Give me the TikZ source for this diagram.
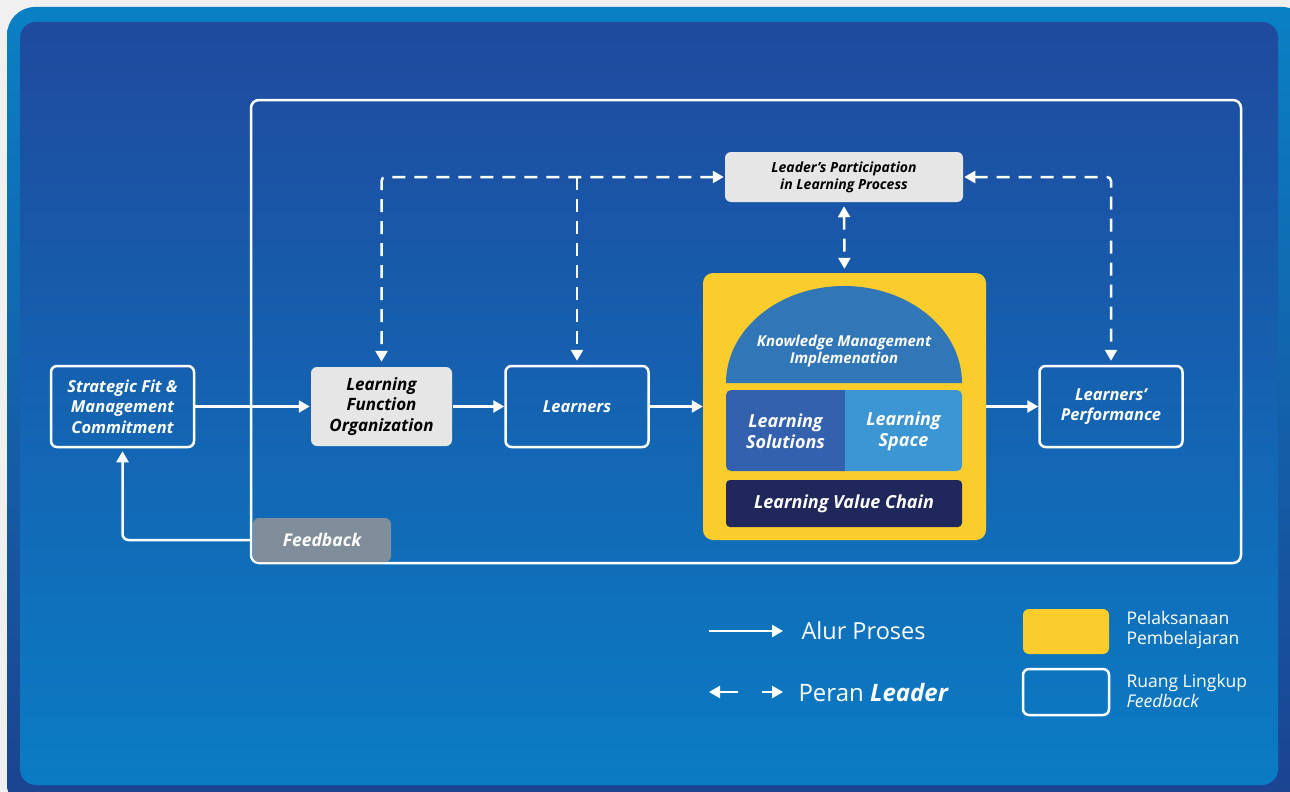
\documentclass[tikz,border=0pt]{standalone}
\usepackage{fontspec}
\setmainfont{Open Sans}
\usetikzlibrary{arrows.meta,positioning}
\definecolor{rimtop}{HTML}{0A80C4}
\definecolor{rimbot}{HTML}{1C4290}
\definecolor{bgtop}{HTML}{1F4A9E}
\definecolor{bgbot}{HTML}{0A7CC4}
\definecolor{abu}{HTML}{E6E6E6}
\definecolor{kuning}{HTML}{FBCD2C}
\definecolor{kubah}{HTML}{3176B7}
\definecolor{solusi}{HTML}{3461AE}
\definecolor{ruang}{HTML}{3D96D4}
\definecolor{navy}{HTML}{1F275B}
\definecolor{fbabu}{HTML}{7F8E9A}
\tikzset{
  kotak/.style={draw=white,line width=2.5pt,rounded corners=6pt,minimum width=143pt,minimum height=81pt,
                align=center,text=white,font=\bfseries\itshape\fontsize{16.5}{20.5}\selectfont},
  kotakabu/.style={kotak,draw=none,fill=abu,text=black,font=\bfseries\itshape\fontsize{17}{20.5}\selectfont},
  isi/.style={align=center,text=white,font=\bfseries\itshape\fontsize{18}{21}\selectfont},
  alur/.style={white,line width=2.5pt,-{Triangle[length=11pt,width=12pt]}},
  peran/.style={white,line width=2.5pt,dash pattern=on 13pt off 9pt,rounded corners=4pt,
                {Triangle[length=11pt,width=12pt]}-{Triangle[length=11pt,width=12pt]}},
  peransatu/.style={peran,-{Triangle[length=11pt,width=12pt]}},
  ket/.style={anchor=west,align=left,text=white,font=\fontsize{17.5}{20}\selectfont},
}
\begin{document}
\begin{tikzpicture}[x=1pt,y=-1pt]
  \useasboundingbox (0,0) rectangle (1290,792);
  \clip (0,0) rectangle (1290,792);
  \fill[white!94!black] (0,0) rectangle (1290,792);
  \shade[top color=rimtop,bottom color=rimbot,rounded corners=28pt] (7,7) rectangle (1310,812);
  \shade[top color=bgtop,bottom color=bgbot,rounded corners=16pt] (20,22) rectangle (1278,785);
  % ruang lingkup feedback
  \draw[white,line width=2.5pt,rounded corners=8pt] (251,100) rectangle (1241,563);
  \node[kotak,fill=fbabu,draw=none,minimum width=138pt,minimum height=44pt,font=\bfseries\itshape\fontsize{17.5}{20}\selectfont] (F) at (322,540) {Feedback};
  % proses
  \node[kotak] (S) at (122.5,406.5) {Strategic Fit \&\\Management\\Commitment};
  \node[kotakabu,minimum width=141pt,minimum height=79pt] (LFO) at (381.5,406.5) {Learning\\Function\\Organization};
  \node[kotak] (Ln) at (577,406.5) {Learners};
  \node[kotak] (P) at (1111,406.5) {Learners’\\Performance};
  \node[kotakabu,minimum width=238pt,minimum height=50pt,font=\bfseries\itshape\fontsize{14}{17}\selectfont] (L) at (844,177) {Leader’s Participation\\in Learning Process};
  % pelaksanaan pembelajaran
  \node[fill=kuning,rounded corners=10pt,minimum width=283pt,minimum height=267pt] (Y) at (844.5,406.5) {};
  \fill[kubah] (726,383) arc[start angle=180,end angle=0,x radius=118pt,y radius=97pt] -- cycle;
  \node[isi,font=\bfseries\itshape\fontsize{15}{17}\selectfont] (K) at (844,351) {Knowledge Management\\Implemenation};
  \fill[solusi] (785,390) [rounded corners=5pt] -- (726,390) -- (726,471) -- (785,471) [sharp corners] -- (845,471) -- (845,390) -- cycle;
  \fill[ruang] (903,390) [rounded corners=5pt] -- (962,390) -- (962,471) -- (903,471) [sharp corners] -- (845,471) -- (845,390) -- cycle;
  \node[isi] (LS) at (785.5,431) {Learning\\Solutions};
  \node[isi] (LSp) at (903.5,431) {Learning\\Space};
  \node[isi,fill=navy,rounded corners=4pt,minimum width=236pt,minimum height=47pt] (V) at (844,503.5) {Learning Value Chain};
  % alur proses
  \draw[alur] (S) -- (LFO);
  \draw[alur] (LFO) -- (Ln);
  \draw[alur] (Ln) -- (Y);
  \draw[alur] (Y) -- (P);
  \draw[alur,rounded corners=6pt,shorten >=3pt] (F.west) -| (S.south);
  % peran leader
  \coordinate (j) at (577,177);
  \draw[peran,shorten >=4pt] (L.west) -| (LFO.north);
  \draw[peransatu,shorten >=4pt] (j) -- (Ln.north);
  \draw[peran,shorten >=4pt] (L.east) -| (P.north);
  \draw[peran,shorten >=4pt,shorten <=3pt] (L.south) -- (Y.north);
  % keterangan
  \coordinate (a1) at (709,631); \coordinate (a2) at (783,631);
  \coordinate (b1) at (709,692); \coordinate (b2) at (738,692);
  \coordinate (b3) at (762,692); \coordinate (b4) at (783,692);
  \draw[alur] (a1) -- (a2);
  \draw[alur] (b2) -- (b1);
  \draw[alur] (b3) -- (b4);
  \node[ket,font=\fontsize{23.5}{28}\selectfont] (t1) at (798,631) {Alur Proses};
  \node[ket,font=\fontsize{24}{28}\selectfont] (t2) at (795,692) {Peran \textbf{\textit{Leader}}};
  \node[fill=kuning,rounded corners=6pt,minimum width=86pt,minimum height=45pt] (ky) at (1066,631.5) {};
  \node[draw=white,line width=2.5pt,rounded corners=6pt,minimum width=86pt,minimum height=46pt] (kb) at (1066,692) {};
  \node[ket] (t3) at (1123,630) {Pelaksanaan\\Pembelajaran};
  \node[ket] (t4) at (1123,691) {Ruang Lingkup\\\textit{Feedback}};
\end{tikzpicture}
\end{document}
